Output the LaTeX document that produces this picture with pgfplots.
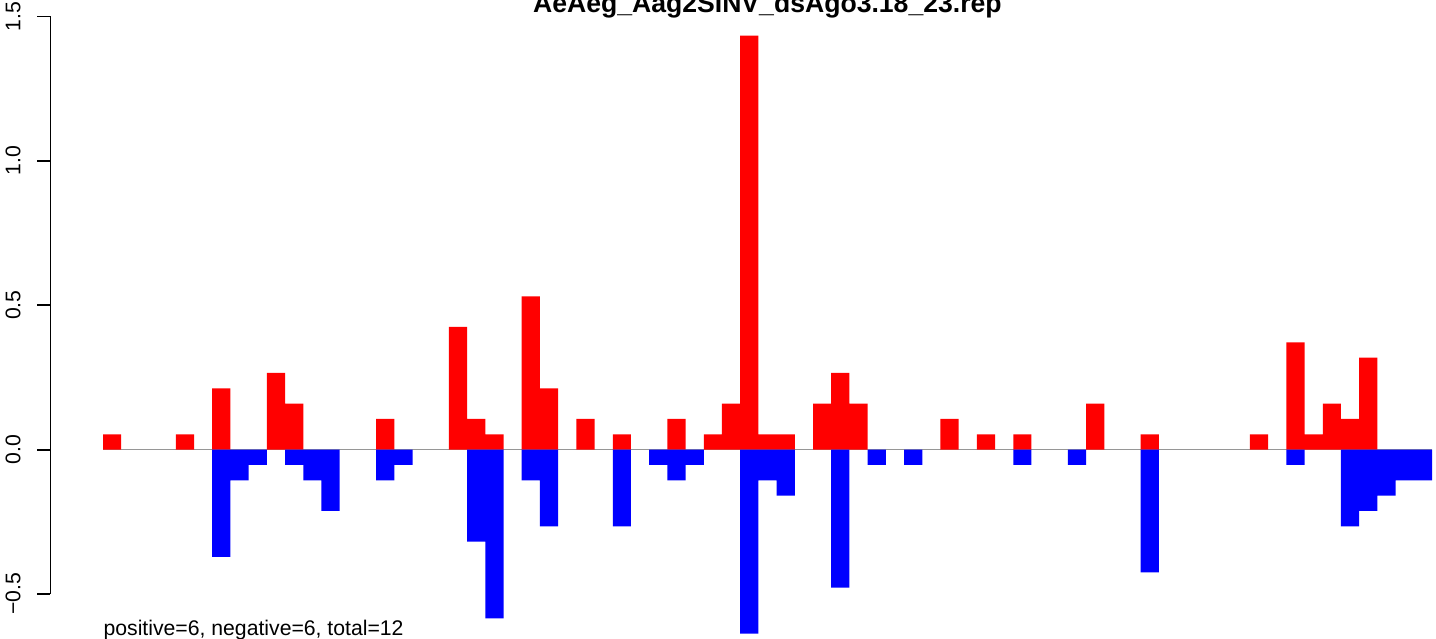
\documentclass[border=0pt]{standalone}
\usepackage{fontspec}
\setmainfont{Liberation Sans}
\usepackage{pgfplots}
\pgfplotsset{compat=1.18}
\definecolor{zeroline}{RGB}{150,150,150}
\definecolor{rred}{RGB}{255,0,0}
\definecolor{rblue}{RGB}{0,0,255}
\begin{document}
\begin{tikzpicture}
\path[use as bounding box] (0,0) rectangle (718pt,319pt);
\begin{axis}[
  at={(25.25pt,22pt)}, anchor=south west,
  scale only axis, width=690.75pt, height=288.75pt,
  xmin=-3.384, xmax=72.5, ymin=-0.5, ymax=1.5,
  axis y line=left, axis x line=none,
  clip=false,
  ytick={-0.5,0,0.5,1,1.5},
  yticklabels={−0.5,0.0,0.5,1.0,1.5},
  tick align=outside, major tick length=6.5pt,
  y axis line style={-, line width=0.9pt},
  ytick style={line width=0.9pt, black},
  yticklabel style={xshift=-8.5pt, rotate=90, anchor=base, inner sep=0pt, font=\fontsize{10.6}{12}\selectfont},
]
\addplot[zeroline, line width=0.7pt] coordinates {(-0.5,0) (72.5,0)};
\addplot[ybar, bar width=1, fill=rred, draw=none] coordinates {
(0,0.0531) (4,0.0531) (6,0.2124) (9,0.2655) (10,0.1593) (15,0.1062)
(19,0.4248) (20,0.1062) (21,0.0531) (23,0.531) (24,0.2124) (26,0.1062)
(28,0.0531) (31,0.1062) (33,0.0531) (34,0.1593) (35,1.4337) (36,0.0531)
(37,0.0531) (39,0.1593) (40,0.2655) (41,0.1593) (46,0.1062) (48,0.0531)
(50,0.0531) (54,0.1593) (57,0.0531) (63,0.0531) (65,0.3717) (66,0.0531)
(67,0.1593) (68,0.1062) (69,0.3186)
};
\addplot[ybar, bar width=1, fill=rblue, draw=none] coordinates {
(6,-0.3717) (7,-0.1062) (8,-0.0531) (10,-0.0531) (11,-0.1062) (12,-0.2124)
(15,-0.1062) (16,-0.0531) (20,-0.3186) (21,-0.5841) (23,-0.1062) (24,-0.2655)
(28,-0.2655) (30,-0.0531) (31,-0.1062) (32,-0.0531) (35,-0.6372) (36,-0.1062)
(37,-0.1593) (40,-0.4779) (42,-0.0531) (44,-0.0531) (50,-0.0531) (53,-0.0531)
(57,-0.4248) (65,-0.0531) (68,-0.2655) (69,-0.2124) (70,-0.1593) (71,-0.1062)
(72,-0.1062)
};
\end{axis}
\node[anchor=base, inner sep=0pt, font=\bfseries\fontsize{13.3}{15}\selectfont] at (383.7pt,312.75pt) {AeAeg\_Aag2SINV\_dsAgo3.18\_23.rep};
\node[anchor=base west, inner sep=0pt, font=\fontsize{10.6}{12}\selectfont] at (51.6pt,1.5pt) {positive=6, negative=6, total=12};
\end{tikzpicture}
\end{document}
